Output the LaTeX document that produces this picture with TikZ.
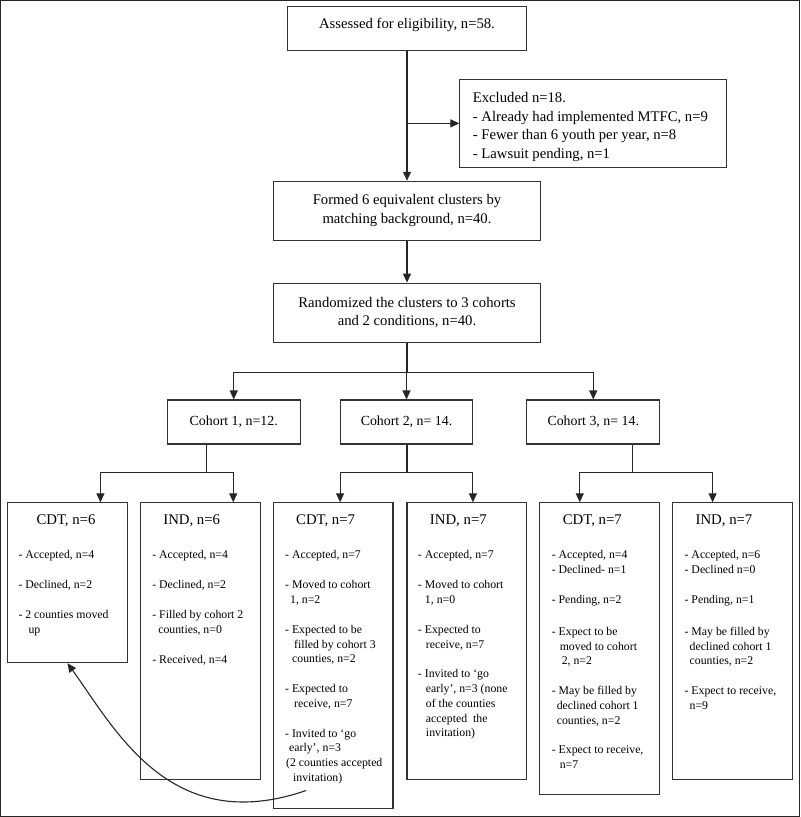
\documentclass[tikz,border=0pt]{standalone}
\usepackage{fontspec}
\setmainfont{Liberation Serif}
\usetikzlibrary{arrows.meta,calc}
\begin{document}
\begin{tikzpicture}[x=1pt,y=-1pt,
  line width=1.1pt,
  every path/.style={draw=black!85},
  box/.style={draw=black!80, line width=1.1pt, inner sep=0pt, align=center},
  arr/.style={-{Triangle[length=9pt,width=8pt]}},
  bigtxt/.style={font=\fontsize{14.7}{18.7}\selectfont},
  cohtxt/.style={font=\fontsize{13.9}{16}\selectfont},
  hdr/.style={anchor=base west, inner sep=0pt, font=\fontsize{14.8}{17}\selectfont},
  items/.style={anchor=north west, inner sep=0pt, align=left, font=\fontsize{11.8}{14.8}\selectfont}
]
\useasboundingbox (0,0) rectangle (800,817);

% upper boxes
\node[box, bigtxt, minimum width=240, minimum height=44, text depth=11pt] (top) at (407,28) {Assessed for eligibility, n=58.};
\node[box, minimum width=267, minimum height=88] (excl) at (593.5,123) {};
\node[anchor=north west, inner sep=0pt, align=left, font=\fontsize{14.7}{18.6}\selectfont] (excltxt) at ([shift={(13,13)}]excl.north west)
  {Excluded n=18.\\- Already had implemented MTFC, n=9\\- Fewer than 6 youth per year, n=8\\- Lawsuit pending, n=1};
\node[box, bigtxt, minimum width=268, minimum height=59] (formed) at (407,210.5) {Formed 6 equivalent clusters by\\matching background, n=40.};
\node[box, bigtxt, minimum width=268, minimum height=59] (rand) at (407,312.5) {Randomized the clusters to 3 cohorts\\and 2 conditions, n=40.};

% cohort boxes
\node[box, cohtxt, minimum width=133, minimum height=44] (c1) at (233.5,422) {Cohort 1, n=12.};
\node[box, cohtxt, minimum width=133, minimum height=44] (c2) at (406.5,422) {Cohort 2, n= 14.};
\node[box, cohtxt, minimum width=133, minimum height=44] (c3) at (593.5,422) {Cohort 3, n= 14.};

% bottom boxes
\node[box, minimum width=120, minimum height=160] (cdt1) at (67,583) {};
\node[box, minimum width=120, minimum height=277] (ind1) at (200,641.5) {};
\node[box, minimum width=120, minimum height=306] (cdt2) at (333,656) {};
\node[box, minimum width=120, minimum height=277] (ind2) at (467,641.5) {};
\node[box, minimum width=120, minimum height=292] (cdt3) at (600,649) {};
\node[box, minimum width=120, minimum height=277] (ind3) at (733,641.5) {};

% headers
\node[hdr] (h1) at ([shift={(29,22)}]cdt1.north west) {CDT, n=6};
\node[hdr] (h2) at ([shift={(23,22)}]ind1.north west) {IND, n=6};
\node[hdr] (h3) at ([shift={(23,22)}]cdt2.north west) {CDT, n=7};
\node[hdr] (h4) at ([shift={(23,22)}]ind2.north west) {IND, n=7};
\node[hdr] (h5) at ([shift={(23,22)}]cdt3.north west) {CDT, n=7};
\node[hdr] (h6) at ([shift={(23,22)}]ind3.north west) {IND, n=7};

% item texts
\node[items] (t1) at ([shift={(11,48)}]cdt1.north west)
 {- Accepted, n=4\\[15pt]- Declined, n=2\\[15pt]- 2 counties moved\\\hspace*{10pt}up};
\node[items] (t2) at ([shift={(12,48)}]ind1.north west)
 {- Accepted, n=4\\[15pt]- Declined, n=2\\[15pt]- Filled by cohort 2\\\hspace*{6pt}counties, n=0\\[15pt]- Received, n=4};
\node[items] (t3) at ([shift={(12,48)}]cdt2.north west)
 {- Accepted, n=7\\[15pt]- Moved to cohort\\\hspace*{5pt}1, n=2\\[15pt]- Expected to be\\\hspace*{9pt}filled by cohort 3\\\hspace*{7pt}counties, n=2\\[15pt]- Expected to\\\hspace*{9pt}receive, n=7\\[15pt]- Invited to ‘go\\\hspace*{4pt}early’, n=3\\\hspace*{1pt}(2 counties accepted\\\hspace*{8pt}invitation)};
\node[items] (t4) at ([shift={(11,48)}]ind2.north west)
 {- Accepted, n=7\\[15pt]- Moved to cohort\\\hspace*{7pt}1, n=0\\[15pt]- Expected to\\\hspace*{8pt}receive, n=7\\[15pt]- Invited to ‘go\\\hspace*{8pt}early’, n=3 (none\\\hspace*{8pt}of the counties\\\hspace*{8pt}accepted\ \ the\\\hspace*{8pt}invitation)};
\node[items] (t5) at ([shift={(12,48)}]cdt3.north west)
 {- Accepted, n=4\\- Declined- n=1\\[15pt]- Pending, n=2\\[17pt]- Expect to be\\\hspace*{8pt}moved to cohort\\\hspace*{10pt}2, n=2\\[15pt]- May be filled by\\\hspace*{5pt}declined cohort 1\\\hspace*{5pt}counties, n=2\\[15pt]- Expect to receive,\\\hspace*{8pt}n=7};
\node[items] (t6) at ([shift={(12,48)}]ind3.north west)
 {- Accepted, n=6\\- Declined n=0\\[15pt]- Pending, n=1\\[17pt]- May be filled by\\\hspace*{5pt}declined cohort 1\\\hspace*{5pt}counties, n=2\\[15pt]- Expect to receive,\\\hspace*{5pt}n=9};

% connectors top part
\draw[arr] (top.south) -- (formed.north);
\coordinate (br) at (top.south |- excl.west);
\draw[arr] (br) -- (excl.west);
\draw[arr] (formed.south) -- (rand.north);
\coordinate (hub) at (407,372);
\draw (rand.south) -- (hub);
\draw[arr] (hub) -| (c1.north);
\draw[arr] (hub) -| (c2.north);
\draw[arr] (hub) -| (c3.north);

% cohort to conditions
\coordinate (j1) at (206,473);
\coordinate (j2) at (407,473);
\coordinate (j3) at (633,473);
\draw (c1.south -| j1) -- (j1);
\draw (c2.south -| j2) -- (j2);
\draw (c3.south -| j3) -- (j3);
\draw[arr] (j1) -| ([xshift=33pt]cdt1.north);
\draw[arr] (j1) -| ([xshift=33pt]ind1.north);
\draw[arr] (j2) -| ([xshift=7pt]cdt2.north);
\draw[arr] (j2) -| ([xshift=6pt]ind2.north);
\draw[arr] (j3) -| ([xshift=-20pt]cdt3.north);
\draw[arr] (j3) -| ([xshift=-20pt]ind3.north);

% curved arrow
\coordinate (cs) at (306,791);
\draw[arr] (cs) .. controls (170,838) and (115,730) .. (cdt1.south);
\end{tikzpicture}
\end{document}
